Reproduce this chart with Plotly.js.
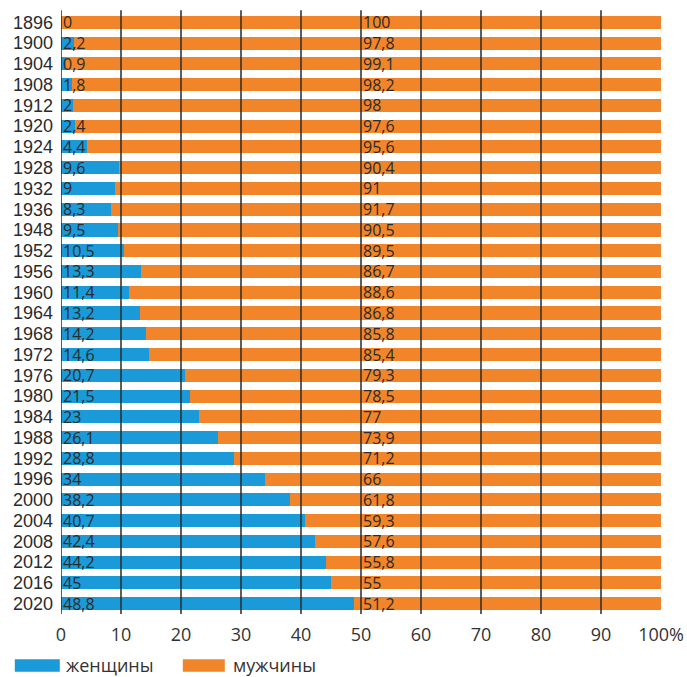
<!DOCTYPE html>
<html>
<head>
<meta charset="utf-8">
<script src="https://cdn.plot.ly/plotly-3.0.1.min.js"></script>
<style>html,body{margin:0;padding:0;background:#fff;}#chart{width:687px;height:677px;}</style>
</head>
<body>
<div id="chart"></div>
<script>
var years = ["1896","1900","1904","1908","1912","1920","1924","1928","1932","1936","1948","1952","1956","1960","1964","1968","1972","1976","1980","1984","1988","1992","1996","2000","2004","2008","2012","2016","2020"];
var women = [0,2.2,0.9,1.8,2,2.4,4.4,9.6,9,8.3,9.5,10.5,13.3,11.4,13.2,14.2,14.6,20.7,21.5,23,26.1,28.8,34,38.2,40.7,42.4,44.2,45,48.8];
var men = [100,97.8,99.1,98.2,98,97.6,95.6,90.4,91,91.7,90.5,89.5,86.7,88.6,86.8,85.8,85.4,79.3,78.5,77,73.9,71.2,66,61.8,59.3,57.6,55.8,55,51.2];
var xTicks = [0,10,20,30,40,50,60,70,80,90,100];
var xTickText = ["0","10","20","30","40","50","60","70","80","90","100%"];
var gridVals = [0,10,20,30,40,50,60,70,80,90];
var legendNames = ["женщины","мужчины"];

var BLUE = "#1a9ad8", ORANGE = "#f2852a";
var FONT = "Open Sans, Noto Sans, sans-serif";
var YFONT = "Liberation Sans, Arial, sans-serif";
function fmt(v){ return String(v).replace(".", ","); }

var traces = [
  {type:"bar", orientation:"h", y:years, x:women, name:legendNames[0], marker:{color:BLUE}, hoverinfo:"x+y"},
  {type:"bar", orientation:"h", y:years, x:men, name:legendNames[1], marker:{color:ORANGE}, hoverinfo:"x+y"}
];

var annotations = [];
for (var i=0;i<years.length;i++){
  annotations.push({x:0, y:i, xref:"x", yref:"y", text:fmt(women[i]), showarrow:false, xanchor:"left", yanchor:"middle", xshift:0, yshift:0, font:{family:FONT, size:16, color:"#2b2b2b"}});
  annotations.push({x:50, y:i, xref:"x", yref:"y", text:fmt(men[i]), showarrow:false, xanchor:"left", yanchor:"middle", xshift:0, yshift:0, font:{family:FONT, size:16, color:"#2b2b2b"}});
}
var shapes = gridVals.map(function(v){
  return {type:"line", xref:"x", yref:"paper", x0:v, x1:v, y0:0, y1:1.003, layer:"above", line:{color:"#2a2a2a", width:1.5}};
});
// custom legend swatches
shapes.push({type:"rect", xref:"paper", yref:"paper", x0:-0.077, x1:-0.002, y0:-0.096, y1:-0.075, fillcolor:BLUE, line:{width:0}});
shapes.push({type:"rect", xref:"paper", yref:"paper", x0:0.203, x1:0.273, y0:-0.096, y1:-0.075, fillcolor:ORANGE, line:{width:0}});
annotations.push({xref:"paper", yref:"paper", x:0.005, y:-0.085, text:legendNames[0], showarrow:false, xanchor:"left", yanchor:"middle", font:{family:FONT, size:18, color:"#333"}});
annotations.push({xref:"paper", yref:"paper", x:0.283, y:-0.085, text:legendNames[1], showarrow:false, xanchor:"left", yanchor:"middle", font:{family:FONT, size:18, color:"#333"}});

var layout = {
  width:687, height:677,
  margin:{l:61, r:26, t:12, b:63},
  paper_bgcolor:"#fff", plot_bgcolor:"#fff",
  barmode:"stack", bargap:0.37,
  showlegend:false,
  font:{family:FONT, color:"#333"},
  xaxis:{range:[0,100], tickvals:xTicks, ticktext:xTickText, showgrid:false, zeroline:false, showline:false,
         ticks:"outside", ticklen:4, tickcolor:"rgba(0,0,0,0)", tickfont:{family:FONT, size:18, color:"#333"}, fixedrange:true},
  yaxis:{type:"category", range:[years.length-0.5, -0.5], autorange:false, tickmode:"array", tickvals:years, ticktext:years,
         showgrid:false, zeroline:false, showline:false, ticks:"",
         tickfont:{family:YFONT, size:18, color:"#2b2b2b"}, ticklabelstandoff:7, fixedrange:true},
  annotations:annotations,
  shapes:shapes
};
Plotly.newPlot("chart", traces, layout, {displayModeBar:false, staticPlot:true});
</script>
</body>
</html>
